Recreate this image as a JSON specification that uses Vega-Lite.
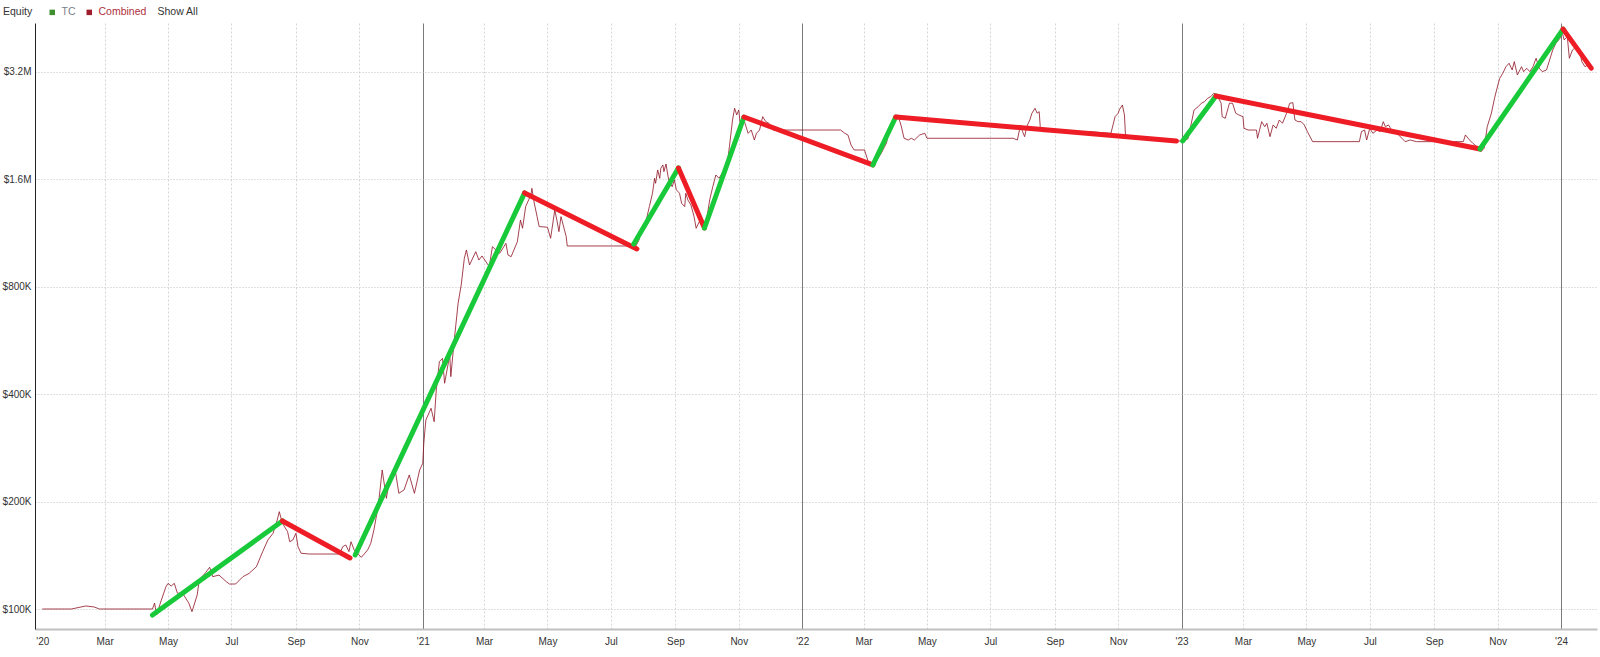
{
"$schema":"https://vega.github.io/schema/vega-lite/v6.json",
"width":1562,"height":606,
"autosize":{"type":"none"},
"padding":{"left":35,"top":23,"right":3,"bottom":28},
"background":"white",
"config":{"view":{"stroke":null},"font":"Liberation Sans","axis":{"labelFont":"Liberation Sans","labelFontSize":10,"labelColor":"#333333"}},
"datasets":{
"equity":[
{"d":"2020-01-01","v":100000},{"d":"2020-01-29","v":100000},{"d":"2020-02-12","v":102000},{"d":"2020-02-20","v":101300},{"d":"2020-02-25","v":100000},{"d":"2020-04-16","v":100000},{"d":"2020-04-18","v":103900},{"d":"2020-04-20","v":96200},{"d":"2020-04-24","v":104800},{"d":"2020-04-29","v":115500},{"d":"2020-05-01","v":118000},{"d":"2020-05-04","v":116000},{"d":"2020-05-07","v":118000},{"d":"2020-05-10","v":110700},{"d":"2020-05-15","v":110700},{"d":"2020-05-21","v":103800},{"d":"2020-05-24","v":98300},{"d":"2020-05-29","v":109400},{"d":"2020-05-31","v":120600},{"d":"2020-06-06","v":126400},{"d":"2020-06-10","v":130900},{"d":"2020-06-13","v":123200},{"d":"2020-06-19","v":124500},{"d":"2020-06-26","v":119300},{"d":"2020-06-29","v":117500},{"d":"2020-07-05","v":117500},{"d":"2020-07-12","v":123200},{"d":"2020-07-18","v":125900},{"d":"2020-07-25","v":131400},{"d":"2020-07-31","v":144800},{"d":"2020-08-05","v":156100},{"d":"2020-08-10","v":163000},{"d":"2020-08-14","v":177600},{"d":"2020-08-16","v":187400},{"d":"2020-08-19","v":173900},{"d":"2020-08-24","v":164700},{"d":"2020-08-26","v":154400},{"d":"2020-08-29","v":156100},{"d":"2020-09-01","v":163000},{"d":"2020-09-03","v":149500},{"d":"2020-09-06","v":143300},{"d":"2020-09-14","v":142600},{"d":"2020-10-13","v":142600},{"d":"2020-10-16","v":149500},{"d":"2020-10-19","v":151200},{"d":"2020-10-22","v":144800},{"d":"2020-10-24","v":154400},{"d":"2020-10-27","v":146400},{"d":"2020-11-03","v":139600},{"d":"2020-11-09","v":146400},{"d":"2020-11-12","v":152800},{"d":"2020-11-15","v":166500},{"d":"2020-11-19","v":193500},{"d":"2020-11-20","v":204300},{"d":"2020-11-23","v":245200},{"d":"2020-11-27","v":204300},{"d":"2020-11-30","v":229900},{"d":"2020-12-06","v":240100},{"d":"2020-12-09","v":211000},{"d":"2020-12-14","v":215600},{"d":"2020-12-19","v":237500},{"d":"2020-12-24","v":211000},{"d":"2020-12-29","v":245200},
{"d":"2021-01-01","v":256100},{"d":"2021-01-02","v":291300},{"d":"2021-01-04","v":338700},{"d":"2021-01-09","v":365200},{"d":"2021-01-12","v":335000},{"d":"2021-01-14","v":411000},{"d":"2021-01-17","v":493400},{"d":"2021-01-20","v":504300},{"d":"2021-01-22","v":429200},{"d":"2021-01-27","v":515200},{"d":"2021-01-28","v":447900},{"d":"2021-01-31","v":555600},{"d":"2021-02-04","v":719200},{"d":"2021-02-07","v":809400},{"d":"2021-02-10","v":961600},{"d":"2021-02-12","v":1014500},{"d":"2021-02-15","v":920800},{"d":"2021-02-21","v":1003500},{"d":"2021-02-24","v":951000},{"d":"2021-02-27","v":976000},{"d":"2021-03-06","v":910800},{"d":"2021-03-09","v":1036300},{"d":"2021-03-16","v":993000},{"d":"2021-03-22","v":1059000},{"d":"2021-03-24","v":982200},{"d":"2021-03-27","v":971400},{"d":"2021-04-02","v":1070000},{"d":"2021-04-05","v":1231000},{"d":"2021-04-07","v":1167000},{"d":"2021-04-10","v":1342000},{"d":"2021-04-15","v":1447000},{"d":"2021-04-16","v":1510000},{"d":"2021-04-18","v":1385000},{"d":"2021-04-21","v":1258000},{"d":"2021-04-23","v":1180000},{"d":"2021-05-01","v":1175000},{"d":"2021-05-04","v":1094000},{"d":"2021-05-08","v":1313000},{"d":"2021-05-10","v":1231000},{"d":"2021-05-12","v":1142000},{"d":"2021-05-14","v":1258000},{"d":"2021-05-19","v":1105500},{"d":"2021-05-20","v":1041000},{"d":"2021-07-25","v":1041000},{"d":"2021-07-28","v":1082000},{"d":"2021-07-30","v":1154000},{"d":"2021-08-04","v":1231000},{"d":"2021-08-07","v":1342000},{"d":"2021-08-10","v":1463000},{"d":"2021-08-12","v":1611000},{"d":"2021-08-13","v":1560000},{"d":"2021-08-15","v":1700000},{"d":"2021-08-17","v":1611000},{"d":"2021-08-18","v":1719000},{"d":"2021-08-20","v":1756000},{"d":"2021-08-21","v":1682000},{"d":"2021-08-23","v":1767000},{"d":"2021-08-25","v":1628000},{"d":"2021-08-26","v":1577000},{"d":"2021-08-29","v":1526000},{"d":"2021-08-31","v":1594000},{"d":"2021-09-02","v":1495000},{"d":"2021-09-05","v":1463000},{"d":"2021-09-07","v":1371000},{"d":"2021-09-10","v":1342000},{"d":"2021-09-11","v":1463000},{"d":"2021-09-13","v":1401000},{"d":"2021-09-16","v":1356000},{"d":"2021-09-19","v":1258000},{"d":"2021-09-21","v":1167000},{"d":"2021-09-24","v":1218000},{"d":"2021-09-27","v":1205000},{"d":"2021-10-01","v":1231000},{"d":"2021-10-04","v":1401000},{"d":"2021-10-07","v":1526000},{"d":"2021-10-10","v":1646000},{"d":"2021-10-13","v":1611000},{"d":"2021-10-17","v":1682000},{"d":"2021-10-21","v":1775000},{"d":"2021-10-23","v":1976000},{"d":"2021-10-26","v":2347000},{"d":"2021-10-28","v":2532000},{"d":"2021-10-30","v":2425000},{"d":"2021-11-01","v":2504000},{"d":"2021-11-02","v":2347000},{"d":"2021-11-03","v":2248000},{"d":"2021-11-06","v":2347000},{"d":"2021-11-10","v":2154000},{"d":"2021-11-13","v":2200000},{"d":"2021-11-16","v":2063000},{"d":"2021-11-18","v":2154000},{"d":"2021-11-21","v":2200000},{"d":"2021-11-24","v":2398000},{"d":"2021-11-27","v":2322000},{"d":"2021-11-30","v":2298000},{"d":"2021-12-04","v":2200000},
{"d":"2022-02-07","v":2200000},{"d":"2022-02-11","v":2154000},{"d":"2022-02-14","v":2131000},{"d":"2022-02-17","v":1997000},{"d":"2022-02-20","v":1934000},{"d":"2022-03-02","v":1934000},{"d":"2022-03-05","v":1813000},{"d":"2022-03-08","v":1756000},{"d":"2022-03-13","v":1794000},{"d":"2022-03-18","v":1894000},{"d":"2022-03-23","v":2020000},{"d":"2022-03-26","v":2200000},{"d":"2022-03-29","v":2347000},{"d":"2022-04-03","v":2425000},{"d":"2022-04-06","v":2273000},{"d":"2022-04-09","v":2086000},{"d":"2022-04-13","v":2063000},{"d":"2022-04-16","v":2086000},{"d":"2022-04-19","v":2063000},{"d":"2022-04-24","v":2131000},{"d":"2022-04-29","v":2154000},{"d":"2022-05-01","v":2086000},{"d":"2022-07-23","v":2086000},{"d":"2022-07-27","v":2063000},{"d":"2022-07-30","v":2273000},{"d":"2022-08-01","v":2177000},{"d":"2022-08-03","v":2108000},{"d":"2022-08-05","v":2248000},{"d":"2022-08-08","v":2347000},{"d":"2022-08-10","v":2452000},{"d":"2022-08-13","v":2532000},{"d":"2022-08-15","v":2452000},{"d":"2022-08-17","v":2477000},{"d":"2022-08-18","v":2248000},{"d":"2022-08-20","v":2177000},{"d":"2022-10-04","v":2177000},{"d":"2022-10-25","v":2154000},{"d":"2022-10-29","v":2398000},{"d":"2022-11-01","v":2452000},{"d":"2022-11-02","v":2504000},{"d":"2022-11-05","v":2586000},{"d":"2022-11-07","v":2425000},{"d":"2022-11-08","v":2131000},{"d":"2022-11-12","v":2117000},{"d":"2022-12-27","v":2050000},
{"d":"2023-01-02","v":2050000},{"d":"2023-01-07","v":2077000},{"d":"2023-01-10","v":2273000},{"d":"2023-01-13","v":2504000},{"d":"2023-01-17","v":2558000},{"d":"2023-01-20","v":2615000},{"d":"2023-01-23","v":2642000},{"d":"2023-01-26","v":2700000},{"d":"2023-01-29","v":2728000},{"d":"2023-02-01","v":2789000},{"d":"2023-02-04","v":2759000},{"d":"2023-02-08","v":2615000},{"d":"2023-02-09","v":2398000},{"d":"2023-02-12","v":2373000},{"d":"2023-02-16","v":2615000},{"d":"2023-02-19","v":2615000},{"d":"2023-02-22","v":2452000},{"d":"2023-02-25","v":2425000},{"d":"2023-03-01","v":2398000},{"d":"2023-03-02","v":2225000},{"d":"2023-03-06","v":2200000},{"d":"2023-03-14","v":2200000},{"d":"2023-03-15","v":2086000},{"d":"2023-03-19","v":2322000},{"d":"2023-03-22","v":2248000},{"d":"2023-03-24","v":2298000},{"d":"2023-03-27","v":2108000},{"d":"2023-03-30","v":2273000},{"d":"2023-04-02","v":2225000},{"d":"2023-04-05","v":2347000},{"d":"2023-04-08","v":2298000},{"d":"2023-04-12","v":2452000},{"d":"2023-04-15","v":2615000},{"d":"2023-04-18","v":2625000},{"d":"2023-04-20","v":2347000},{"d":"2023-04-23","v":2322000},{"d":"2023-04-26","v":2322000},{"d":"2023-04-29","v":2273000},{"d":"2023-05-02","v":2177000},{"d":"2023-05-07","v":2041000},{"d":"2023-06-21","v":2041000},{"d":"2023-06-23","v":2177000},{"d":"2023-06-26","v":2200000},{"d":"2023-06-28","v":2063000},{"d":"2023-07-01","v":2225000},{"d":"2023-07-04","v":2154000},{"d":"2023-07-08","v":2200000},{"d":"2023-07-11","v":2177000},{"d":"2023-07-14","v":2322000},{"d":"2023-07-16","v":2248000},{"d":"2023-07-19","v":2273000},{"d":"2023-07-23","v":2177000},{"d":"2023-07-27","v":2154000},{"d":"2023-08-01","v":2086000},{"d":"2023-08-04","v":2041000},{"d":"2023-08-09","v":2063000},{"d":"2023-08-15","v":2041000},{"d":"2023-09-29","v":2041000},{"d":"2023-10-01","v":2131000},{"d":"2023-10-05","v":2063000},{"d":"2023-10-08","v":2020000},{"d":"2023-10-13","v":1968000},{"d":"2023-10-16","v":1913000},{"d":"2023-10-19","v":1956000},{"d":"2023-10-22","v":2248000},{"d":"2023-10-26","v":2452000},{"d":"2023-10-29","v":2700000},{"d":"2023-10-31","v":2849000},{"d":"2023-11-03","v":3072000},{"d":"2023-11-06","v":3174000},{"d":"2023-11-09","v":3311000},{"d":"2023-11-12","v":3385000},{"d":"2023-11-15","v":3242000},{"d":"2023-11-17","v":3420000},{"d":"2023-11-20","v":3138000},{"d":"2023-11-24","v":3311000},{"d":"2023-11-26","v":3206000},{"d":"2023-11-29","v":3277000},{"d":"2023-12-02","v":3206000},{"d":"2023-12-05","v":3311000},{"d":"2023-12-08","v":3496000},{"d":"2023-12-11","v":3277000},{"d":"2023-12-14","v":3206000},{"d":"2023-12-18","v":3242000},{"d":"2023-12-21","v":3458000},{"d":"2023-12-24","v":3688000},{"d":"2023-12-27","v":3850000},{"d":"2023-12-31","v":3978000},{"d":"2024-01-02","v":4151000},{"d":"2024-01-04","v":3935000},{"d":"2024-01-07","v":4019000},{"d":"2024-01-09","v":3496000},{"d":"2024-01-12","v":3688000},{"d":"2024-01-16","v":3768000},{"d":"2024-01-19","v":3648000},{"d":"2024-01-21","v":3420000},{"d":"2024-01-24","v":3311000},{"d":"2024-01-27","v":3348000},{"d":"2024-01-30","v":3311000}
],
"swings":[
{"seg":"G1","dir":"up","d":"2020-04-16","v":96200},{"seg":"G1","dir":"up","d":"2020-08-19","v":176500},
{"seg":"R1","dir":"down","d":"2020-08-19","v":176500},{"seg":"R1","dir":"down","d":"2020-10-23","v":139000},
{"seg":"G2","dir":"up","d":"2020-10-28","v":141700},{"seg":"G2","dir":"up","d":"2021-04-09","v":1466000},
{"seg":"R2","dir":"down","d":"2021-04-09","v":1466000},{"seg":"R2","dir":"down","d":"2021-07-26","v":1021000},
{"seg":"G3","dir":"up","d":"2021-07-23","v":1054000},{"seg":"G3","dir":"up","d":"2021-09-04","v":1722000},
{"seg":"R3","dir":"down","d":"2021-09-04","v":1722000},{"seg":"R3","dir":"down","d":"2021-09-29","v":1169000},
{"seg":"G4","dir":"up","d":"2021-09-29","v":1169000},{"seg":"G4","dir":"up","d":"2021-11-06","v":2393000},
{"seg":"R4","dir":"down","d":"2021-11-06","v":2393000},{"seg":"R4","dir":"down","d":"2022-03-10","v":1756000},
{"seg":"G5","dir":"up","d":"2022-03-10","v":1756000},{"seg":"G5","dir":"up","d":"2022-04-01","v":2393000},
{"seg":"R5","dir":"down","d":"2022-04-01","v":2393000},{"seg":"R5","dir":"down","d":"2022-12-27","v":2050000},
{"seg":"G6","dir":"up","d":"2023-01-02","v":2050000},{"seg":"G6","dir":"up","d":"2023-02-03","v":2740000},
{"seg":"R6","dir":"down","d":"2023-02-03","v":2740000},{"seg":"R6","dir":"down","d":"2023-10-15","v":1947000},
{"seg":"G7","dir":"up","d":"2023-10-15","v":1947000},{"seg":"G7","dir":"up","d":"2024-01-03","v":4220000},
{"seg":"R7","dir":"down","d":"2024-01-03","v":4220000},{"seg":"R7","dir":"down","d":"2024-01-30","v":3280000}
]
},
"encoding":{
"x":{"field":"d","type":"temporal",
 "scale":{"type":"utc","domain":[{"year":2019,"month":12,"date":25,"utc":true},{"year":2024,"month":2,"date":4,"hours":14,"utc":true}]},
 "axis":{"title":null,"tickCount":{"interval":"month","step":2},
  "labelExpr":"utcmonth(datum.value) === 0 ? \"'\" + utcFormat(datum.value, '%y') : utcFormat(datum.value, '%b')",
  "labelOverlap":false,"labelPadding":7,"ticks":false,
  "domainColor":"#c0c0c0","domainWidth":2,
  "grid":true,"gridWidth":1,
  "gridColor":{"condition":{"test":"utcmonth(datum.value) === 0","value":"#7a7a7a"},"value":"#d4d4d4"},
  "gridDash":{"condition":{"test":"utcmonth(datum.value) === 0","value":[]},"value":[2,2]},
  "gridOpacity":{"condition":{"test":"utcyear(datum.value) === 2020 && utcmonth(datum.value) === 0","value":0},"value":1}}},
"y":{"field":"v","type":"quantitative",
 "scale":{"type":"log","domain":[87900,4389000],"nice":false},
 "axis":{"title":null,"values":[100000,200000,400000,800000,1600000,3200000],
  "labelExpr":"datum.value >= 1000000 ? '$' + format(datum.value/1000000, '.1f') + 'M' : '$' + format(datum.value/1000, 'd') + 'K'",
  "ticks":false,"labelPadding":4,"domainColor":"#222222","domainWidth":1,
  "grid":true,"gridColor":"#c2c2c2","gridDash":[1,2],"gridWidth":1}}
},
"layer":[
{"data":{"name":"equity"},
 "mark":{"type":"line","strokeWidth":1,"interpolate":"linear","opacity":0.8},
 "encoding":{"color":{"datum":"Combined","type":"nominal",
  "scale":{"domain":["TC","Combined","Show All"],"range":["#3f8f2f","#8e1424","#ffffff"]},
  "legend":{"orient":"none","legendX":-32,"legendY":-16,"direction":"horizontal",
   "title":"Equity","titleOrient":"left","titleFontSize":10.5,"titleFontWeight":"normal","titleColor":"#333333","titleFont":"Liberation Sans","titlePadding":14,
   "labelFontSize":10.5,"labelFont":"Liberation Sans","labelOffset":4,"columnPadding":8,
   "symbolType":"square","symbolSize":30,"symbolStrokeWidth":0,"symbolOpacity":1,
   "encode":{
    "symbols":{"update":{"fill":{"signal":"datum.value === 'TC' ? '#3f8f2f' : datum.value === 'Combined' ? '#9e1c2c' : 'transparent'"},"stroke":{"value":"transparent"},"opacity":{"value":1}}},
    "labels":{"update":{"fill":{"signal":"datum.value === 'Combined' ? '#b0303c' : datum.value === 'TC' ? '#7a8088' : '#333333'"},"dx":{"signal":"datum.value === 'Show All' ? -12 : 0"}}}}}}}},
{"data":{"name":"swings"},
 "mark":{"type":"line","strokeWidth":5,"strokeCap":"round"},
 "encoding":{"detail":{"field":"seg"},
  "color":{"field":"dir","type":"nominal","scale":{"domain":["up","down"],"range":["#18c93a","#ee1c25"]},"legend":null}}}
],
"resolve":{"scale":{"color":"independent"}}
}
